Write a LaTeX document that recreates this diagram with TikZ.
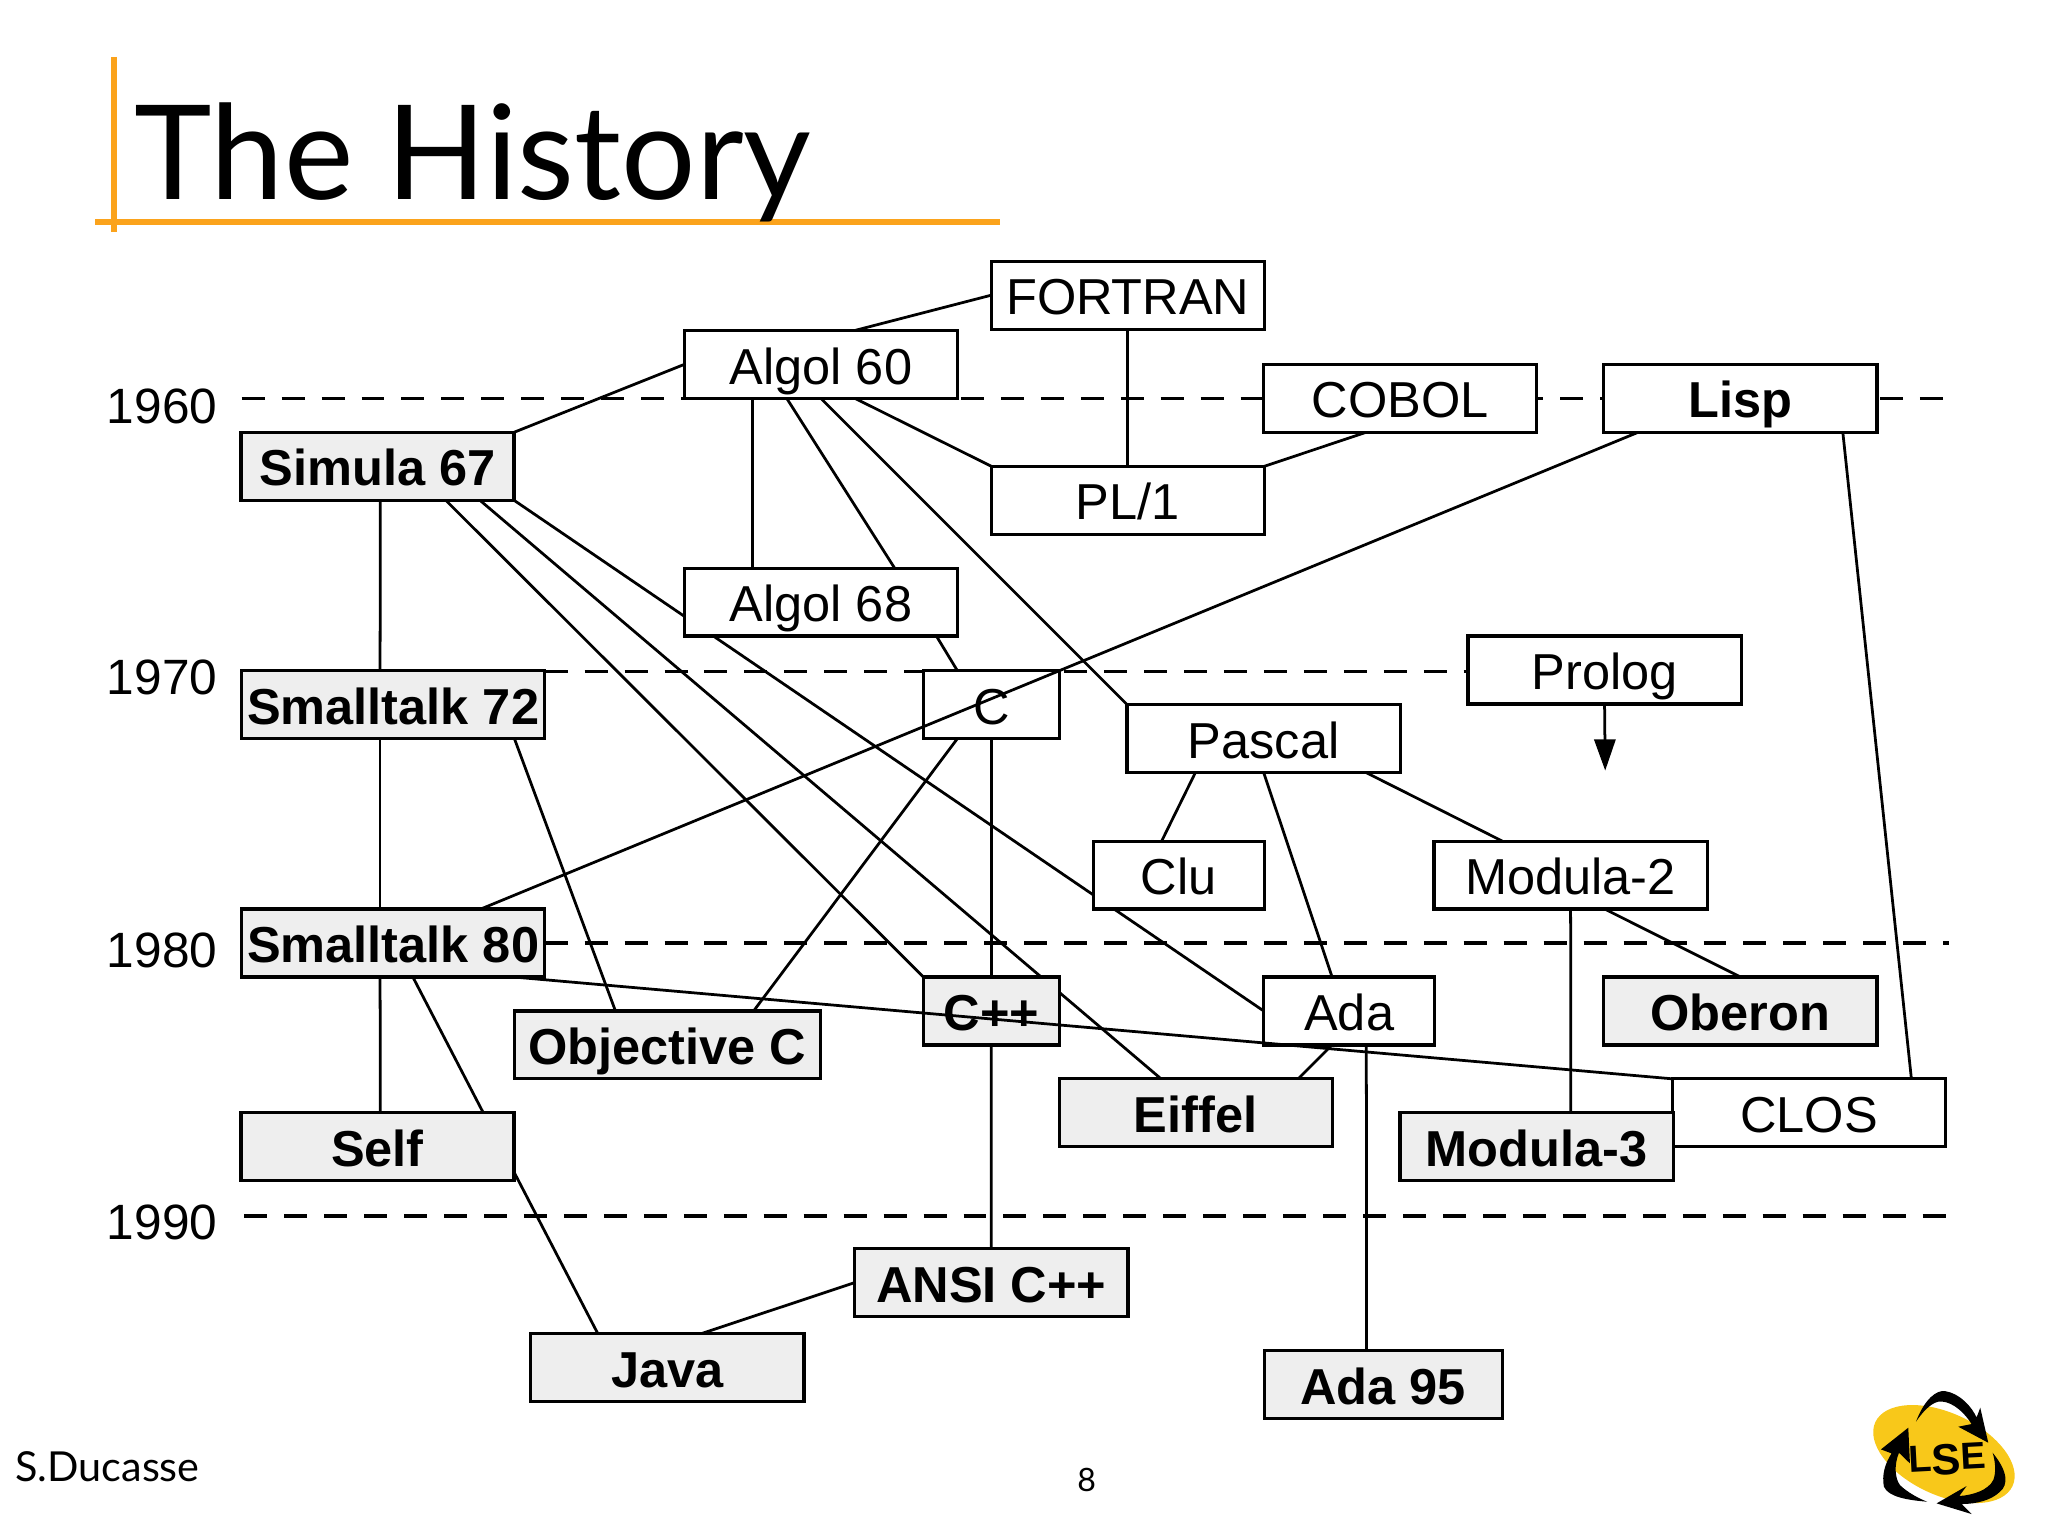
\documentclass[tikz,border=0pt]{standalone}
\usepackage{fontspec}
\setmainfont{Liberation Sans}
\newfontfamily\titlefont{Lato}
\usepackage{tikz}
\usetikzlibrary{
    calc,
    backgrounds,
    arrows.meta
}
\definecolor{rulecolor}{HTML}{FBA31C}
\definecolor{boxgray}{HTML}{EEEEEE}
\definecolor{logoyellow}{HTML}{F8C81A}
\tikzset{
    langbox/.style={draw, fill=white, line width=.7pt, minimum width=#1, minimum height=.52cm,
        inner sep=0pt, outer sep=0pt, text height=.38cm, text depth=.08cm, font=\fontsize{11}{13}\selectfont},
    langbox/.default=2.09cm,
    oobox/.style={langbox=#1, fill=boxgray, font=\fontsize{11}{13}\selectfont\bfseries},
    oobox/.default=2.09cm,
    boldbox/.style={langbox=#1, font=\fontsize{11}{13}\selectfont\bfseries},
    boldbox/.default=2.09cm,
    conn/.style={line width=.6pt},
    yearline/.style={line width=.8pt, dash pattern=on 5pt off 3.7pt},
    year/.style={anchor=east, inner sep=0pt, font=\fontsize{10.8}{13}\selectfont},
    orangerule/.style={rulecolor, line width=1.25pt}
}
\newcommand{\link}[4]{\draw[conn] ($(#1.south west)!#2!(#1.south east)$) -- ($(#3.north west)!#4!(#3.north east)$);}
\begin{document}
\begin{tikzpicture}[x=.01cm,y=-.01cm]

\useasboundingbox (0,0) rectangle (1568,1176);

\coordinate (Vtop) at (87,43.5);
\coordinate (Vbot) at (87,178);
\coordinate (Hleft) at (73,170);
\coordinate (Hright) at (766,170);
\coordinate (A60) at (185,305);
\coordinate (B60) at (1492,305);
\coordinate (A70) at (417,514);
\coordinate (B70) at (1124,514);
\coordinate (A80) at (417,722);
\coordinate (B80) at (1492,722);
\coordinate (A90) at (187,931);
\coordinate (B90) at (1492,931);
\coordinate (prologEnd) at (1229,590);

\draw[orangerule] (Vtop)--(Vbot);
\draw[orangerule] (Hleft)--(Hright);

\node[anchor=base west, inner sep=0pt, font=\titlefont\fontsize{28.6}{32}\selectfont] (title) at (102,153) {The History};
\node[anchor=base west, inner sep=0pt, font=\titlefont\fontsize{9}{11}\selectfont] (author) at (11,1134) {S.Ducasse};
\node[inner sep=0pt, font=\titlefont\fontsize{7}{9}\selectfont] (pagenum) at (832,1133) {8};

\node[year] (y60) at (167,311) {1960};
\node[year] (y70) at (167,519) {1970};
\node[year] (y80) at (167,728) {1980};
\node[year] (y90) at (167,936) {1990};

\node[langbox] (fortran) at (863.5,226) {FORTRAN};
\node[langbox] (algolsixty) at (628.5,279) {Algol 60};
\node[langbox] (cobol) at (1072,305) {COBOL};
\node[boldbox] (lisp) at (1332.5,305) {Lisp};
\node[oobox] (simula) at (289,357) {Simula 67};
\node[langbox] (plone) at (863.5,383) {PL/1};
\node[langbox] (algolsixtyeight) at (628.5,461) {Algol 68};
\node[langbox] (prolog) at (1228.5,513) {Prolog};
\node[oobox=2.32cm] (stseventytwo) at (301,539.5) {Smalltalk 72};
\node[langbox=1.04cm] (clang) at (759,539.5) {C};
\node[langbox] (pascal) at (967.5,565.5) {Pascal};
\node[langbox=1.31cm] (clu) at (902.5,670) {Clu};
\node[langbox] (modulatwo) at (1202.5,670) {Modula-2};
\node[oobox=2.32cm] (steighty) at (301,722) {Smalltalk 80};
\node[oobox=1.04cm] (cpp) at (759,774) {C++};
\node[langbox=1.31cm] (ada) at (1033,774) {Ada};
\node[oobox] (oberon) at (1332.5,774) {Oberon};
\node[oobox=2.34cm] (objc) at (511,800) {Objective C};
\node[langbox] (clos) at (1385,852) {CLOS};
\node[oobox] (eiffel) at (915.5,852) {Eiffel};
\node[oobox] (modulathree) at (1176.5,878) {Modula-3};
\node[oobox] (self) at (289,878) {Self};
\node[oobox] (ansi) at (759,982) {ANSI C++};
\node[oobox] (java) at (511,1047) {Java};
\node[oobox=1.82cm] (adaninetyfive) at (1059,1060) {Ada 95};

\begin{pgfonlayer}{background}
\draw[yearline] (A60)--(B60);
\draw[yearline] (A70)--(B70);
\draw[yearline] (A80)--(B80);
\draw[yearline] (A90)--(B90);

\draw[conn] (fortran.west) -- ($(algolsixty.north west)!.625!(algolsixty.north east)$);
\draw[conn] (fortran.south) -- (plone.north);
\draw[conn] (algolsixty.west) -- (simula.north east);
\draw[conn] ($(algolsixty.south west)!.625!(algolsixty.south east)$) -- (plone.north west);
\link{algolsixty}{.25}{algolsixtyeight}{.25}
\link{algolsixty}{.375}{algolsixtyeight}{.77}
\draw[conn] (algolsixty.south) -- (pascal.north west);
\draw[conn] ($(cobol.south west)!.375!(cobol.south east)$) -- (plone.north east);
\link{lisp}{.875}{clos}{.875}
\link{simula}{.51}{stseventytwo}{.457}
\draw[conn] ($(simula.south west)!.75!(simula.south east)$) -- (cpp.north west);
\link{simula}{.875}{eiffel}{.373}
\draw[conn] (simula.south east) -- (ada.west);
\link{stseventytwo}{.457}{steighty}{.457}
\link{stseventytwo}{.9}{objc}{.33}
\link{clang}{.25}{objc}{.782}
\link{clang}{.5}{cpp}{.5}
\link{algolsixtyeight}{.923}{clang}{.25}
\link{pascal}{.25}{clu}{.4}
\link{pascal}{.5}{ada}{.4}
\link{pascal}{.875}{modulatwo}{.25}
\link{modulatwo}{.5}{modulathree}{.625}
\link{modulatwo}{.625}{oberon}{.5}
\link{steighty}{.457}{self}{.51}
\link{steighty}{.565}{java}{.245}
\link{cpp}{.5}{ansi}{.5}
\draw[conn] (ansi.west) -- ($(java.north west)!.625!(java.north east)$);
\draw[conn] ($(ada.south west)!.4!(ada.south east)$) -- ($(eiffel.north west)!.875!(eiffel.north east)$);
\link{ada}{.6}{adaninetyfive}{.43}
\end{pgfonlayer}

\draw[conn, -{Triangle[length=6.8pt,width=4.6pt]}] (prolog.south) -- (prologEnd);
\link{lisp}{.125}{steighty}{.789}
\draw[conn] ($(steighty.south west)!.897!(steighty.south east)$) -- (clos.north west);

\begin{scope}[shift={(1393.4,1041.3)},scale=.2552]
\fill[logoyellow, rotate around={-25:(372,282)}] (372,282) ellipse (227 and 123);
\fill (288,185) .. controls (315,115) and (350,90) .. (375,93) .. controls (420,100) and (455,140) .. (470,172) -- (481,143) -- (505,248) -- (415,200) -- (455,192) .. controls (425,145) and (385,120) .. (355,125) .. controls (330,130) and (305,160) .. (288,185) -- cycle;
\fill (518,278) .. controls (565,335) and (565,375) .. (540,395) .. controls (515,420) and (470,432) .. (425,432) -- (455,462) -- (350,430) -- (440,378) -- (418,408) .. controls (460,405) and (505,390) .. (520,360) .. controls (530,335) and (525,300) .. (518,278) -- cycle;
\fill (322,425) .. controls (260,420) and (205,410) .. (192,380) .. controls (185,345) and (195,310) .. (215,280) -- (183,268) -- (265,203) -- (270,310) -- (237,278) .. controls (222,315) and (225,355) .. (240,375) .. controls (260,395) and (295,415) .. (322,425) -- cycle;
\node[inner sep=0pt, rotate=3, font=\fontsize{8.2}{9}\selectfont\bfseries] (logotext) at (382,298) {L\raisebox{-.9pt}{\fontsize{9.5}{9}\selectfont S}E};
\end{scope}

\end{tikzpicture}
\end{document}
